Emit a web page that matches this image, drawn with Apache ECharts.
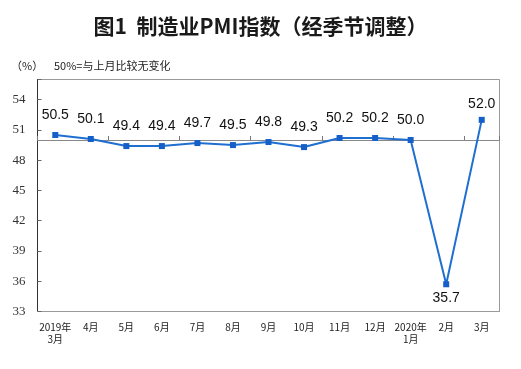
<!DOCTYPE html>
<html><head><meta charset="utf-8">
<script src="https://cdn.jsdelivr.net/npm/echarts@6/dist/echarts.min.js"></script>
<style>html,body{margin:0;padding:0;background:#fff}#c{width:521px;height:369px}</style>
</head><body><div id="c"></div>
<script>
const categories = ['2019年\n3月','4月','5月','6月','7月','8月','9月','10月','11月','12月','2020年\n1月','2月','3月'];
const pmi = [50.5, 50.1, 49.4, 49.4, 49.7, 49.5, 49.8, 49.3, 50.2, 50.2, 50.0, 35.7, 52.0];
const yTicks = [33, 36, 39, 42, 45, 48, 51, 54];
const refLevel = 50;
const yMin = 33, yMax = 56, yStep = 3;

const chart = echarts.init(document.getElementById('c'));
const gridTop = 79.5, gridBottom = 57.5;
const plotH = 369 - gridTop - gridBottom;
const refOffset = -plotH * (refLevel - yMin) / (yMax - yMin);

const seriesData = pmi.map((v, i) => {
  if (v === Math.min(...pmi)) return {value: v, label: {position: 'bottom', distance: 4}};
  if (i === pmi.length - 1) return {value: v, label: {distance: 6}};
  return v;
});

chart.setOption({
  animation: false,
  title: [{
    text: '图1  制造业PMI指数（经季节调整）',
    left: 'center', top: 11,
    textStyle: {fontFamily: 'Noto Sans CJK SC', fontSize: 21, fontWeight: 'bold', color: '#1a1a1a'}
  }, {
    text: '（%）', left: 6, top: 55,
    textStyle: {fontFamily: 'Noto Sans CJK SC', fontSize: 11, fontWeight: 'normal', color: '#222'}
  }, {
    text: '50%=与上月比较无变化', left: 49, top: 55,
    textStyle: {fontFamily: 'Noto Sans CJK SC', fontSize: 11, fontWeight: 'normal', color: '#222'}
  }],
  grid: {left: 37.5, right: 21.5, top: gridTop, bottom: gridBottom, show: true, borderColor: '#999', borderWidth: 1},
  xAxis: [{
    type: 'category', data: categories, boundaryGap: true,
    axisLine: {lineStyle: {color: '#999'}},
    axisTick: {show: false},
    axisLabel: {fontFamily: 'Noto Sans CJK SC', fontSize: 10, color: '#222', margin: 10, lineHeight: 12, interval: 0}
  }, {
    type: 'category', data: categories, boundaryGap: true, position: 'bottom', offset: refOffset,
    axisLine: {lineStyle: {color: '#888', width: 1}},
    axisTick: {show: true, inside: true, length: 4, lineStyle: {color: '#777'}},
    axisLabel: {show: false}
  }],
  yAxis: {
    type: 'value', min: yMin, max: yMax, interval: yStep,
    axisLine: {show: true, lineStyle: {color: '#333'}},
    axisTick: {show: true, inside: true, length: 4, lineStyle: {color: '#666'}},
    splitLine: {show: false},
    axisLabel: {
      fontFamily: 'Liberation Serif', fontSize: 13, color: '#333', margin: 12,
      formatter: v => yTicks.indexOf(v) >= 0 ? String(v) : ''
    }
  },
  series: [{
    type: 'line', data: seriesData, xAxisIndex: 0,
    symbol: 'rect', symbolSize: 6,
    lineStyle: {color: '#1f6fd1', width: 2},
    itemStyle: {color: '#1560c8'},
    label: {
      show: true, position: 'top', distance: 10,
      fontFamily: 'Liberation Sans', fontSize: 14, color: '#111',
      formatter: p => Number(p.value).toFixed(1)
    },
    labelLayout: {hideOverlap: false},
    z: 5
  }]
});
</script></body></html>
